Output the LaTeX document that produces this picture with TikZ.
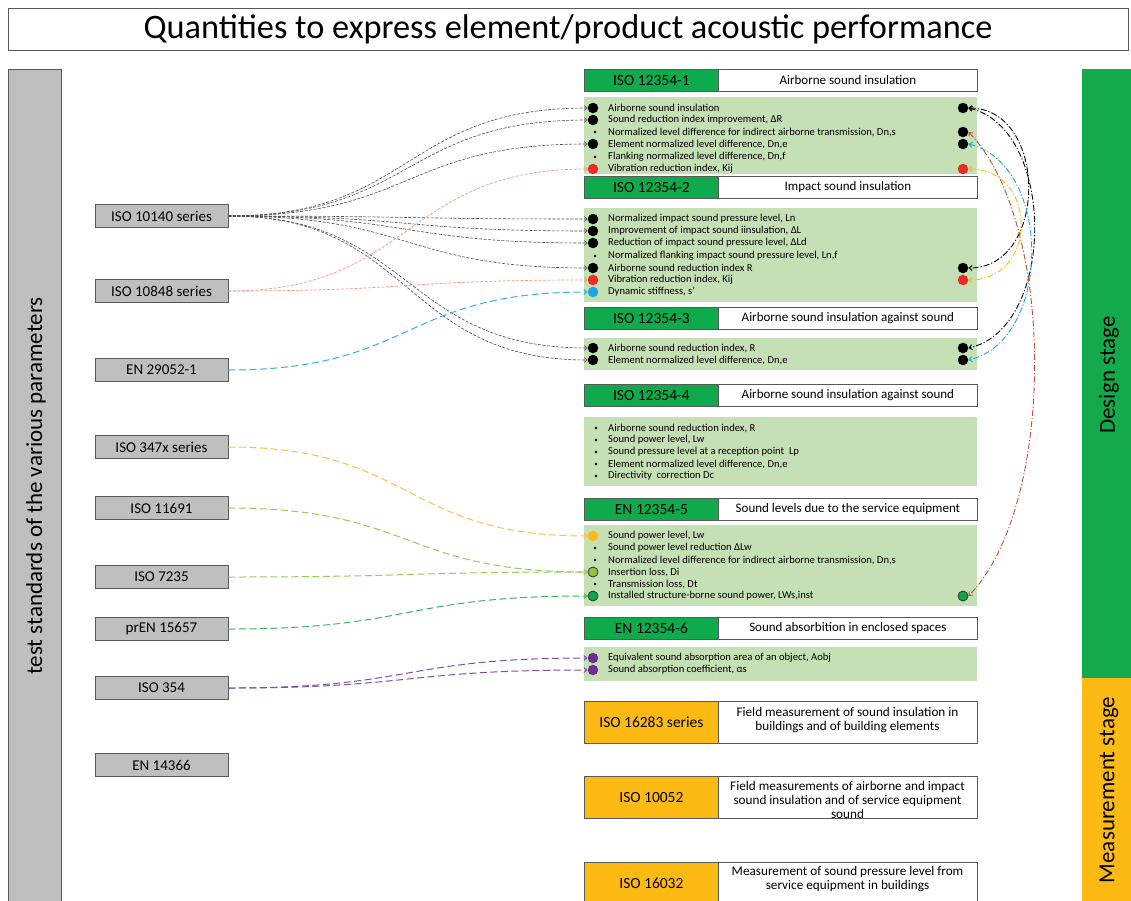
\documentclass[tikz,border=0pt]{standalone}
\usepackage{fontspec}
\setmainfont{Carlito}
\usetikzlibrary{arrows.meta}
\definecolor{hgreen}{HTML}{0FAA4B}
\definecolor{lgreen}{HTML}{C5E0B4}
\definecolor{gbar}{HTML}{BFBFBF}
\definecolor{ybox}{HTML}{FDBA12}
\definecolor{sbar}{HTML}{12AA4A}
\definecolor{cred}{HTML}{EE2A24}
\definecolor{cblue}{HTML}{1BA6E3}
\definecolor{cyel}{HTML}{FDB913}
\definecolor{clgreen}{HTML}{8DC63F}
\definecolor{cgreen}{HTML}{0FA64A}
\definecolor{cpurple}{HTML}{6F2C91}
\definecolor{lsalmon}{HTML}{F29A80}
\definecolor{lblue}{HTML}{3AAEE0}
\definecolor{lyel}{HTML}{F8C24A}
\definecolor{llgreen}{HTML}{95CC5A}
\definecolor{lgr}{HTML}{3DB35A}
\definecolor{lpur}{HTML}{7F52A8}
\definecolor{ared}{HTML}{C0503A}
\definecolor{bord}{HTML}{595959}
\newcommand\itemline[3]{\node[itxt] (#1) at (606,#2) {#3};}
\begin{document}
\begin{tikzpicture}[x=1pt,y=-1pt,
  hid/.style={draw=bord, line width=0.8pt, fill=hgreen, minimum width=134pt, minimum height=22pt, anchor=north west, inner sep=0pt, font=\fontsize{15.5}{17}\selectfont},
  hdesc/.style={draw=bord, line width=0.8pt, fill=white, minimum width=259pt, minimum height=22pt, anchor=north west, inner sep=0pt, font=\fontsize{13}{15}\selectfont},
  mid/.style={draw=bord, line width=0.8pt, fill=ybox, minimum width=134pt, minimum height=42pt, anchor=north west, inner sep=0pt, font=\fontsize{15.5}{17}\selectfont},
  mdesc/.style={draw=bord, line width=0.8pt, fill=white, minimum width=259pt, minimum height=42pt, anchor=north west, inner sep=0pt},
  mtxt/.style={align=center, font=\fontsize{13.2}{14}\selectfont, inner sep=0pt},
  panel/.style={fill=lgreen, draw=none, minimum width=393pt, anchor=north west, inner sep=0pt},
  sbox/.style={draw=bord, line width=0.8pt, fill=gbar, minimum width=133pt, minimum height=23pt, inner sep=0pt, font=\fontsize{15}{17}\selectfont},
  itxt/.style={anchor=west, inner sep=2pt, font=\fontsize{10.6}{12}\selectfont},
  bdot/.style={circle, fill=#1, inner sep=0pt, minimum size=10.5pt},
  odot/.style={circle, fill=#1, draw=black!80, line width=0.8pt, inner sep=0pt, minimum size=10pt},
  sdot/.style={circle, fill=black, inner sep=0pt, minimum size=2.6pt},
  tip/.style={-{Straight Barb[length=3pt,width=5pt]}},
  lcg/.style={tip, draw=black!70, line width=0.6pt, dash pattern=on 3pt off 1.5pt},
  lcs/.style={tip, draw=lsalmon, line width=0.7pt, dash pattern=on 3pt off 1.5pt},
  lcc/.style={tip, draw=#1, line width=1pt, dash pattern=on 7pt off 3.5pt},
  rarc/.style={{Straight Barb[length=3pt,width=5pt]}-{Straight Barb[length=3pt,width=5pt]}, draw=#1, line width=0.9pt, dash pattern=on 6pt off 2pt on 1.2pt off 2pt}
]
\useasboundingbox (0,0) rectangle (1131,900);
\fill[white] (0,0) rectangle (1131,900);
% title
\node[draw=bord, line width=0.6pt, minimum width=1120pt, minimum height=42pt, inner sep=0pt, font=\fontsize{34.3}{37}\selectfont] (title) at (568,29) {Quantities to express element/product acoustic performance};
% side bars
\path[draw=bord, line width=0.8pt, fill=gbar] (8,69) rectangle (61,905);
\node[rotate=90, font=\fontsize{23}{26}\selectfont] (ltxt) at (36,486) {test standards of the various parameters};
\path[fill=sbar] (1082,69) rectangle (1131,678);
\path[fill=ybox] (1082,678) rectangle (1131,905);
\node[rotate=90, font=\fontsize{23}{26}\selectfont] (dtxt) at (1109,375) {Design stage};
\node[rotate=90, font=\fontsize{23}{26}\selectfont] (mtx) at (1109,790) {Measurement stage};
% left standards
\node[sbox] (s10140) at (161.5,216) {ISO 10140 series};
\node[sbox] (s10848) at (161.5,291) {ISO 10848 series};
\node[sbox] (s29052) at (161.5,370) {EN 29052-1};
\node[sbox] (s347x) at (161.5,447) {ISO 347x series};
\node[sbox] (s11691) at (161.5,508) {ISO 11691};
\node[sbox] (s7235) at (161.5,577) {ISO 7235};
\node[sbox] (s15657) at (161.5,629) {prEN 15657};
\node[sbox] (s354) at (161.5,688) {ISO 354};
\node[sbox] (s14366) at (161.5,765) {EN 14366};
% headers
\node[hid] (h1) at (584,69) {ISO 12354-1};
\node[hdesc] (h1d) at (718,69) {Airborne sound insulation};
\node[hid] (h2) at (584,176) {ISO 12354-2};
\node[hdesc] (h2d) at (718,176) {Impact sound insulation};
\node[hid] (h3) at (584,307) {ISO 12354-3};
\node[hdesc] (h3d) at (718,307) {Airborne sound insulation against sound};
\node[hid] (h4) at (584,384) {ISO 12354-4};
\node[hdesc] (h4d) at (718,384) {Airborne sound insulation against sound};
\node[hid] (h5) at (584,498) {EN 12354-5};
\node[hdesc] (h5d) at (718,498) {Sound levels due to the service equipment};
\node[hid] (h6) at (584,617) {EN 12354-6};
\node[hdesc] (h6d) at (718,617) {Sound absorbition in enclosed spaces};
% measurement boxes
\node[mid] (m1) at (584,701) {ISO 16283 series};
\node[mdesc] (m1d) at (718,701) {};
\node[mtxt] (m1t) at (847.5,720) {Field measurement of sound insulation in\\buildings and of building elements};
\node[mid] (m2) at (584,776) {ISO 10052};
\node[mdesc] (m2d) at (718,776) {};
\node[mtxt] (m2t) at (847.5,800) {Field measurements of airborne and impact\\sound insulation and of service equipment\\sound};
\node[mid] (m3) at (584,862) {ISO 16032};
\node[mdesc] (m3d) at (718,862) {};
\node[mtxt] (m3t) at (847.5,879) {Measurement of sound pressure level from\\service equipment in buildings};
% panels
\node[panel, minimum height=77pt] (pn1) at (584,97) {};
\node[panel, minimum height=94pt] (pn2) at (584,208) {};
\node[panel, minimum height=32pt] (pn3) at (584,338) {};
\node[panel, minimum height=69pt] (pn4) at (584,417) {};
\node[panel, minimum height=81pt] (pn5) at (584,525) {};
\node[panel, minimum height=34pt] (pn6) at (584,647) {};
% panel 1
\itemline{t1a}{108}{Airborne sound insulation}
\itemline{t1b}{120}{Sound reduction index improvement, ΔR}
\itemline{t1c}{132}{Normalized level difference for indirect airborne transmission, Dn,s}
\itemline{t1d}{144}{Element normalized level difference, Dn,e}
\itemline{t1e}{157}{Flanking normalized level difference, Dn,f}
\itemline{t1f}{169}{Vibration reduction index, Kij}
\node[bdot=black] (L1a) at (593,108) {};
\node[bdot=black] (L1b) at (593,120) {};
\node[sdot] (L1c) at (595,132) {};
\node[bdot=black] (L1d) at (593,144) {};
\node[sdot] (L1e) at (595,157) {};
\node[bdot=cred] (L1f) at (593,169) {};
\node[bdot=black] (R1a) at (963,108) {};
\node[bdot=black] (R1c) at (963,132) {};
\node[bdot=black] (R1d) at (963,144) {};
\node[bdot=cred] (R1f) at (963,169) {};
% panel 2
\itemline{t2a}{219}{Normalized impact sound pressure level, Ln}
\itemline{t2b}{231}{Improvement of impact sound iinsulation, ΔL}
\itemline{t2c}{243}{Reduction of impact sound pressure level, ΔLd}
\itemline{t2d}{256}{Normalized flanking impact sound pressure level, Ln,f}
\itemline{t2e}{268}{Airborne sound reduction index R}
\itemline{t2f}{280}{Vibration reduction index, Kij}
\itemline{t2g}{292}{Dynamic stiffness, s’}
\node[bdot=black] (L2a) at (593,219) {};
\node[bdot=black] (L2b) at (593,231) {};
\node[bdot=black] (L2c) at (593,243) {};
\node[sdot] (L2d) at (595,256) {};
\node[bdot=black] (L2e) at (593,268) {};
\node[bdot=cred] (L2f) at (593,280) {};
\node[bdot=cblue] (L2g) at (593,292) {};
\node[bdot=black] (R2e) at (963,268) {};
\node[bdot=cred] (R2f) at (963,280) {};
% panel 3
\itemline{t3a}{348}{Airborne sound reduction index, R}
\itemline{t3b}{360}{Element normalized level difference, Dn,e}
\node[bdot=black] (L3a) at (593,348) {};
\node[bdot=black] (L3b) at (593,360) {};
\node[bdot=black] (R3a) at (963,348) {};
\node[bdot=black] (R3b) at (963,360) {};
% panel 4
\itemline{t4a}{428}{Airborne sound reduction index, R}
\itemline{t4b}{440}{Sound power level, Lw}
\itemline{t4c}{452}{Sound pressure level at a reception point \ Lp}
\itemline{t4d}{464}{Element normalized level difference, Dn,e}
\itemline{t4e}{476}{Directivity \ correction Dc}
\node[sdot] (L4a) at (596,428) {};
\node[sdot] (L4b) at (596,440) {};
\node[sdot] (L4c) at (596,452) {};
\node[sdot] (L4d) at (596,464) {};
\node[sdot] (L4e) at (596,476) {};
% panel 5
\itemline{t5a}{536}{Sound power level, Lw}
\itemline{t5b}{548}{Sound power level reduction ΔLw}
\itemline{t5c}{560}{Normalized level difference for indirect airborne transmission, Dn,s}
\itemline{t5d}{572}{Insertion loss, Di}
\itemline{t5e}{584}{Transmission loss, Dt}
\itemline{t5f}{596}{Installed structure-borne sound power, LWs,inst}
\node[bdot=cyel] (L5a) at (593,536) {};
\node[sdot] (L5b) at (595,548) {};
\node[sdot] (L5c) at (595,560) {};
\node[odot=clgreen] (L5d) at (593,572) {};
\node[sdot] (L5e) at (595,584) {};
\node[odot=cgreen] (L5f) at (593,596) {};
\node[odot=cgreen] (R5f) at (963,596) {};
% panel 6
\itemline{t6a}{658}{Equivalent sound absorption area of an object, Aobj}
\itemline{t6b}{670}{Sound absorption coefficient, αs}
\node[bdot=cpurple] (L6a) at (593,658) {};
\node[bdot=cpurple] (L6b) at (593,670) {};
% left connectors
\foreach \t in {L1a,L1b,L1d,L2a,L2b,L2c,L2e,L3a,L3b}
  \draw[lcg] (s10140.east) .. controls +(185,0) and +(-185,0) .. (\t.west);
\foreach \t in {L1f,L2f}
  \draw[lcs] (s10848.east) .. controls +(185,0) and +(-185,0) .. (\t.west);
\draw[lcc=lblue] (s29052.east) .. controls +(185,0) and +(-185,0) .. (L2g.west);
\draw[lcc=lyel] (s347x.east) .. controls +(185,0) and +(-185,0) .. (L5a.west);
\draw[lcc=llgreen] (s11691.east) .. controls +(185,0) and +(-185,0) .. (L5d.west);
\draw[lcc=llgreen] (s7235.east) .. controls +(185,0) and +(-185,0) .. (L5d.west);
\draw[lcc=lgr] (s15657.east) .. controls +(185,0) and +(-185,0) .. (L5f.west);
\foreach \t in {L6a,L6b}
  \draw[lcc=lpur] (s354.east) .. controls +(185,0) and +(-185,0) .. (\t.west);
% right arcs
\draw[rarc=black] (R1a.east) .. controls +(80,0) and +(80,0) .. (R2e.east);
\draw[rarc=black] (R1a.east) .. controls +(88,20) and +(88,-20) .. (R3a.east);
\draw[rarc=ared] (R1c.east) .. controls +(88,90) and +(88,-90) .. (R5f.east);
\draw[rarc=cblue] (R1d.east) .. controls +(84,20) and +(84,-20) .. (R3b.east);
\draw[rarc=cyel] (R1f.east) .. controls +(70,0) and +(70,0) .. (R2f.east);
\end{tikzpicture}
\end{document}
